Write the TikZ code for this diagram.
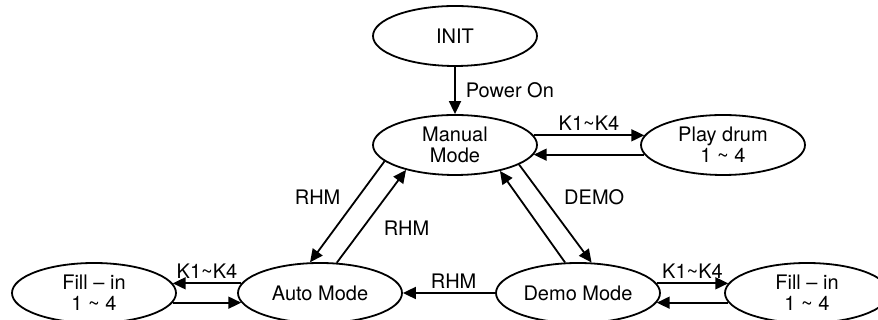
\documentclass[tikz,border=0pt]{standalone}
\usepackage{fontspec}
\setmainfont{TeX Gyre Heros}
\usetikzlibrary{shapes.geometric}
\usetikzlibrary{positioning}
\usetikzlibrary{arrows.meta}

\begin{document}
\begin{tikzpicture}[->,>={Triangle[length=6.5pt,width=6pt]},auto,on grid,
	line width=0.9pt,font=\fontsize{10}{10.5}\selectfont,
	main node/.style={ellipse,draw,minimum width=82pt,minimum height=30pt,inner sep=0pt,align=center}]
	
	\useasboundingbox (0,0) rectangle (439pt,160pt);
	
	\node[main node] (init) at (227.5pt,142pt) {INIT};
	\node[main node] (man) [below=54.5pt of init] {Manual\\Mode};
	\node[main node] (drum) [right=134pt of man] {Play drum\\1 \textasciitilde{} 4};
	\node[main node] (am) [below left=74pt and 67.5pt of man] {Auto Mode};
	\node[main node] (demo) [below right=74pt and 61.5pt of man] {Demo Mode};
	\node[main node] (fl) [left=113pt of am] {Fill -- in\\1 \textasciitilde{} 4};
	\node[main node] (fr) [right=114.5pt of demo] {Fill -- in\\1 \textasciitilde{} 4};
	
	\path[every node/.style={inner sep=2pt}]
	(init) edge node [inner sep=5pt] {Power On} (man)
	(man.7) edge node {K1\textasciitilde K4} (drum.173)
	(drum.187) edge (man.353)
	(man.193) edge node [swap,pos=0.5,inner sep=3pt] {RHM} (am.108)
	(am.61) edge node [swap,pos=0.55,inner sep=4pt] {RHM} (man.207)
	(man.343) edge node [pos=0.5,inner sep=4pt] {DEMO} (demo.66)
	(demo.113) edge (man.330)
	(demo) edge node [swap,pos=0.45] {RHM} (am)
	(am.173) edge node [swap] {K1\textasciitilde K4} (fl.7)
	(fl.353) edge (am.187)
	(demo.7) edge node {K1\textasciitilde K4} (fr.173)
	(fr.187) edge (demo.353);
\end{tikzpicture}
\end{document}
